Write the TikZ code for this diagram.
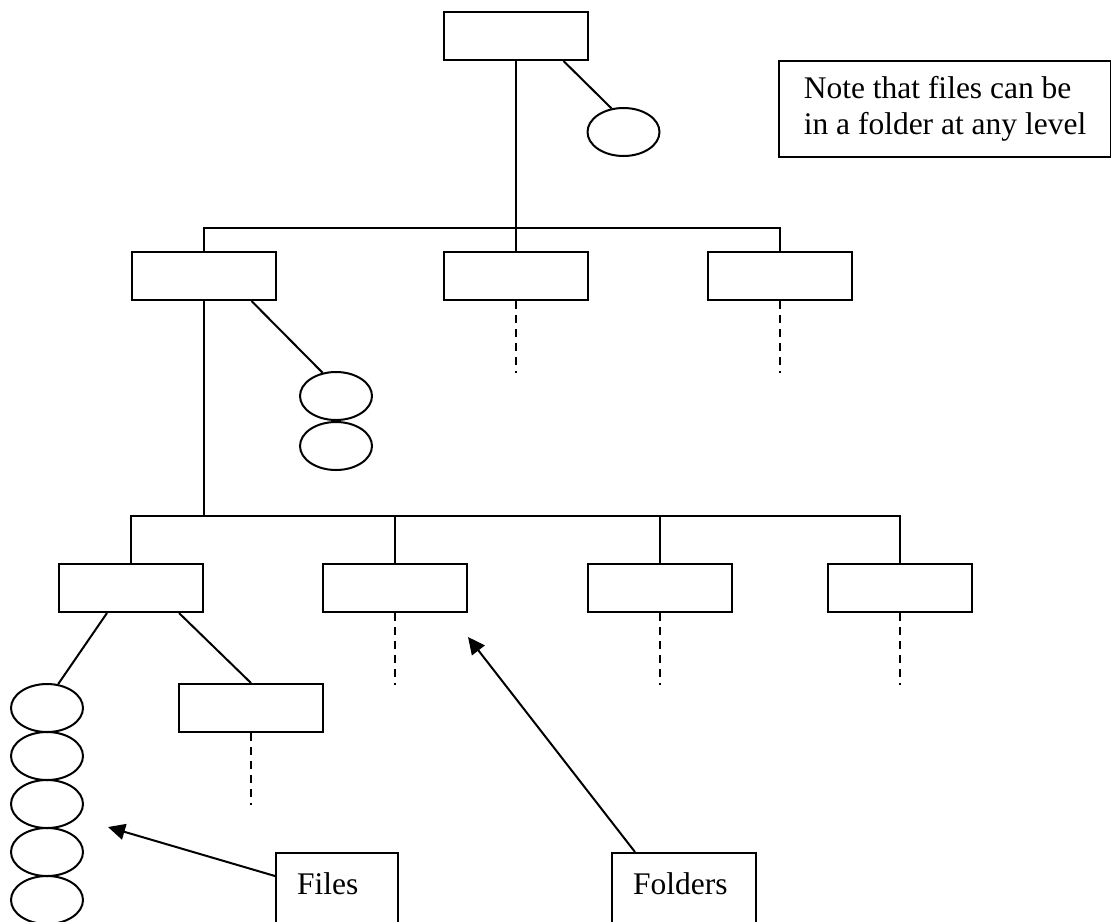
\documentclass[tikz,border=0pt]{standalone}
\usepackage{fontspec}
\setmainfont{Liberation Serif}
\usetikzlibrary{shapes.geometric,arrows.meta,calc,positioning}

\begin{document}
\begin{tikzpicture}[x=0.5pt, y=-0.5pt, line width=1pt,
                    font={\fontsize{15.75pt}{18pt}\selectfont},
                    folderNode/.style={draw, rectangle, inner sep=0pt,
                                       minimum width=72pt, minimum height=24pt},
                    fileNode/.style={draw, ellipse, inner sep=0pt,
                                     minimum width=36pt, minimum height=24pt},
                    tagBox/.style={draw, anchor=north west, align=left,
                                   text width=#1, inner xsep=10.5pt, inner ysep=9.5pt,
                                   text height=11pt, text depth=30pt},
                    dotsDown/.style={dash pattern=on 4pt off 3pt},
                    pointer/.style={-{Triangle[length=8.5pt,width=8pt]}}
                   ]
  \useasboundingbox (0,0) rectangle (1111,921);

  % folders
  \node[folderNode] (rootFolder) at (515.5,36) {};
  \node[folderNode] (subA) at (203.5,276) {};
  \node[folderNode] (subB) at (515.5,276) {};
  \node[folderNode] (subC) at (779.5,276) {};
  \node[folderNode] (leafA) at (131,588) {};
  \node[folderNode] (leafB) at (395,588) {};
  \node[folderNode] (leafC) at (659.5,588) {};
  \node[folderNode] (leafD) at (899.5,588) {};
  \node[folderNode] (leafAFolder) at (251,708) {};

  % files
  \node[fileNode] (rootFile) at (623.5,132) {};
  \node[fileNode] (subAFile1) at (336,396) {};
  \node[fileNode, below=0pt of subAFile1] (subAFile2) {};
  \foreach \i in {1,...,5}
    \node[fileNode] (leafFile\i) at (47,{660+48*\i}) {};

  \coordinate (busHigh) at (0,228);
  \coordinate (busLow) at (0,516);

  \draw (rootFolder) -- (subB);
  \draw (subA.north) -- (subA.north |- busHigh) -- (subC.north |- busHigh) -- (subC.north);
  \draw (subA) -- (subA |- busLow);
  \draw (leafA.north) -- (leafA.north |- busLow) -- (leafD.north |- busLow) -- (leafD.north);
  \foreach \n in {leafB,leafC}
    \draw (\n) -- (\n |- busLow);

  \draw ($(rootFolder.south)+(48,0)$) -- (rootFile.117);
  \draw ($(subA.south)+(48,0)$) -- (subAFile1.120);
  \draw ($(leafA.south)+(-24,0)$) -- (leafFile1.65);
  \draw ($(leafA.south)+(48,0)$) -- (leafAFolder.north);

  \foreach \n in {subB,subC,leafB,leafC,leafD,leafAFolder}
    \draw[dotsDown] (\n.south) -- ++(0,72);

  % labels
  \node[draw, align=left, anchor=north west, minimum width=166pt, minimum height=48pt]
    (note) at (778,60) {Note that files can be\\in a folder at any level};
  \node[tagBox=40pt] (filesTag) at (275,852) {Files};
  \node[tagBox=51pt] (foldersTag) at (611,852) {Folders};

  \coordinate (filesTip) at (108,827);
  \coordinate (foldersTip) at (468,637);
  \draw[pointer] ($(filesTag.north west)+(0,24)$) -- (filesTip);
  \draw[pointer] ($(foldersTag.north west)+(24,0)$) -- (foldersTip);
\end{tikzpicture}
\end{document}
